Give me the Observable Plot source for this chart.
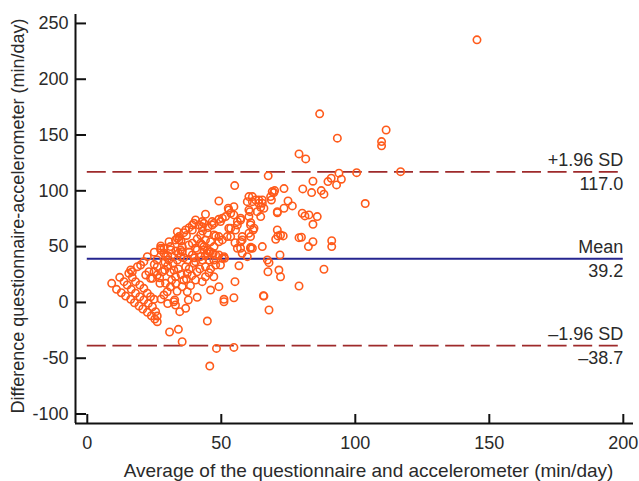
<!DOCTYPE html>
<html>
<head>
<meta charset="utf-8">
<script src="https://cdn.jsdelivr.net/npm/d3@7"></script>
<script src="https://cdn.jsdelivr.net/npm/@observablehq/plot@0.6"></script>
<style>
  html, body { margin: 0; padding: 0; background: #fff; }
  #chart { width: 639px; height: 481px; }
</style>
</head>
<body>
<div id="chart"></div>
<script>
// Average of questionnaire and accelerometer (min/day)
const avgValues = [
  145.4, 86.7, 111.5, 93.3, 109.8, 109.8, 79.0, 81.5, 116.9, 100.5,
  93.9, 94.8, 91.0, 89.8, 93.0, 84.2, 67.5, 55.0, 103.7, 87.3,
  88.3, 83.7, 80.4, 73.4, 69.9, 68.4, 68.7, 74.9, 76.5, 73.4,
  70.9, 80.2, 81.2, 85.8, 84.2, 79.0, 79.9, 84.2, 82.5, 91.2,
  91.2, 88.3, 79.0, 71.9, 72.1, 71.5, 67.4, 67.2, 67.8, 65.3,
  65.7, 67.8, 71.1, 73.1, 70.3, 72.1, 70.9, 59.7, 61.6, 62.8,
  65.3, 64.7, 60.7, 64.7, 69.0, 65.3, 60.3, 64.0, 65.9, 60.3,
  63.4, 49.1, 44.1, 52.8, 50.4, 54.7, 56.0, 57.2, 60.9, 61.9,
  53.5, 47.9, 50.4, 52.2, 55.1, 57.2, 60.9, 60.9, 57.8, 46.6,
  42.9, 43.5, 44.8, 47.2, 49.7, 51.2, 56.6, 55.1, 49.1, 46.0,
  44.1, 54.7, 51.0, 45.7, 48.2, 54.7, 35.4, 30.7, 34.0, 44.8,
  65.9, 51.0, 61.0, 32.6, 32.9, 34.5, 36.7, 41.0, 37.7, 35.4,
  37.3, 40.4, 42.9, 47.2, 45.4,
  9.1, 10.9, 12.7, 14.3, 16.2, 17.6, 19.3, 20.7, 22.4, 23.9,
  25.2, 26.1, 25.5, 26.1, 12.1, 13.7, 14.9, 16.4, 18.0, 19.6,
  21.1, 22.8, 24.3, 15.5, 16.8, 18.0, 19.6, 21.1, 22.4, 23.6,
  24.9,
  18.7, 21.1, 22.4, 23.0, 24.3, 26.1, 27.1, 27.4, 28.6, 28.9,
  29.2, 28.6, 29.8, 30.4, 32.3, 32.9, 33.6, 35.4, 36.7, 37.3,
  35.4, 39.2, 39.2, 39.8, 41.0, 42.3, 43.5, 44.1, 45.4, 45.9,
  47.9, 49.1, 50.4, 42.3, 16.2, 19.9, 21.8, 23.6, 24.9, 26.1,
  28.0, 27.4, 28.6, 29.2, 32.9, 33.6, 32.3,
  61.6, 64.0, 52.6, 53.5, 51.6, 49.1, 46.6, 43.5, 40.4, 39.8,
  41.7, 36.7, 36.0, 56.0, 57.2, 52.8, 55.3, 57.8, 60.3, 62.2,
  57.2, 61.6, 56.0, 49.1, 46.0, 42.9, 40.4, 37.9, 34.2, 34.8,
  51.0, 57.8, 47.9, 45.4, 59.7, 69.6, 82.7, 70.9, 54.7, 49.7,
  47.3, 42.9, 39.2, 34.2, 42.3, 44.8, 47.3, 49.1, 53.5, 61.0,
  60.3, 39.2, 33.6, 30.5, 27.4, 31.1, 41.0, 44.8, 44.1, 47.3,
  34.8, 37.3, 40.4, 16.8,
  30.0, 31.5, 34.0, 36.0, 38.5, 38.0, 42.0, 26.0, 25.0, 31.0,
  33.5, 27.5, 30.0,
  30.0, 32.0, 34.0, 36.0, 38.0, 40.0, 43.0, 46.0, 47.0, 25.0,
  27.0, 29.0, 31.0, 33.0, 35.0, 37.0, 39.0, 44.0, 41.0, 37.0,
  43.0, 45.0, 38.0, 35.0, 31.0, 33.0
];
// Difference questionnaire - accelerometer (min/day)
const diffValues = [
  235.3, 169.0, 154.5, 147.2, 144.1, 140.3, 133.1, 128.6, 117.2, 116.3,
  115.8, 110.4, 111.3, 108.3, 105.3, 108.6, 113.4, 104.7, 88.6, 100.2,
  97.0, 98.4, 101.7, 102.0, 100.2, 94.8, 91.8, 90.9, 86.5, 84.4,
  80.4, 79.9, 77.5, 76.9, 70.0, 58.0, 58.4, 54.4, 50.0, 55.3,
  50.0, 29.7, 14.7, 42.5, 23.0, 29.0, 27.5, 38.0, 35.6, 50.0,
  6.0, -6.8, 59.6, 59.6, 56.6, 60.4, 64.9, 90.3, 94.8, 91.8,
  91.8, 85.3, 81.3, 76.9, 99.3, 88.9, 94.8, 88.9, 84.4, 82.9,
  81.3, 90.9, 79.0, 82.9, 75.4, 78.4, 69.4, 73.9, 69.4, 64.9,
  66.5, 59.6, 56.0, 59.0, 53.5, 48.5, 59.0, 48.5, 56.0, 69.4,
  67.9, 50.0, 44.0, 38.0, 33.5, 39.5, 32.9, 18.6, 14.1, 11.1,
  23.0, 4.2, 2.8, -57.0, -41.2, -40.3, -35.2, -26.5, -24.1, -16.7,
  5.7, 0.6, 49.4, 2.2, -2.3, -8.3, -5.3, 4.6, 2.2, 14.1,
  9.6, 20.1, 18.6, 23.0, 26.6,
  17.1, 11.7, 8.7, 5.7, 2.8, -0.3, -3.2, -5.9, -8.9, -11.9,
  -14.9, -17.3, -8.3, -12.2, 22.5, 18.6, 15.6, 11.7, 8.2, 5.1,
  2.2, -0.8, -3.9, 26.1, 22.5, 18.6, 15.6, 12.6, 8.2, 5.1,
  2.8,
  32.0, 36.5, 41.0, 27.5, 21.6, 24.6, 17.1, 50.6, 44.0, 29.0,
  17.1, 6.6, 9.6, 38.0, 29.0, 23.0, 38.0, 45.5, 32.0, 26.1,
  50.0, 53.0, 42.5, 35.0, 27.5, 41.0, 47.0, 32.0, 38.0, 45.5,
  33.5, 42.5, 39.5, 53.0, 29.1, 33.5, 24.6, 21.6, 27.5, 32.0,
  27.5, 47.0, 48.5, 41.0, 56.0, 63.4, 0.6,
  90.3, 91.8, 84.4, 79.9, 76.9, 74.5, 72.4, 70.9, 73.9, 70.9,
  69.4, 64.9, 62.5, 72.4, 75.4, 66.5, 64.9, 59.0, 62.0, 66.5,
  54.4, 48.5, 48.5, 54.4, 54.4, 51.5, 48.5, 51.5, 56.0, 47.0,
  41.0, 44.0, 42.5, 45.5, 41.0, 98.4, 78.4, 81.3, 85.8, 72.4,
  70.9, 72.4, 64.9, 59.0, 60.4, 62.0, 60.4, 59.0, 59.0, 71.5,
  76.9, 69.4, 57.5, 54.4, 48.5, 47.0, 47.0, 47.0, 56.0, 50.0,
  41.0, 38.0, 36.5, 27.5,
  33.0, 20.0, 30.0, 20.0, 15.0, 45.0, 30.0, 38.0, 45.0, 14.0,
  10.0, 3.0, -1.0,
  42.0, 35.0, 44.0, 40.0, 30.0, 40.0, 38.0, 30.0, 44.0, 34.0,
  22.0, 36.0, 27.0, 17.0, 25.0, 21.0, 24.0, 42.0, 57.0, 60.0,
  64.0, 67.0, 67.0, 55.0, 50.0, 46.0
];

const xTicks = [0, 50, 100, 150, 200];
const yTicks = [-100, -50, 0, 50, 100, 150, 200, 250];
const xDomain = [-4.4, 203.8];
const yDomain = [-108.5, 258];
const limitsX = [0, 200];
const refValues = [117.0, 39.2, -38.7];
const refNames = ["+1.96 SD", "Mean", "\u20131.96 SD"];
const refValueLabels = ["117.0", "39.2", "\u201338.7"];
const xLabel = "Average of the questionnaire and accelerometer (min/day)";
const yLabel = "Difference questionnaire-accelerometer (min/day)";

const points = avgValues.map((a, i) => ({avg: a, diff: diffValues[i]}));
const refs = refValues.map((v, i) => ({v, name: refNames[i], label: refValueLabels[i], mean: i === 1}));

const font = "'Liberation Sans', Arial, Helvetica, sans-serif";
const textColor = "#2a2a2a";

const chart = Plot.plot({
  width: 639,
  height: 481,
  marginLeft: 75,
  marginRight: 6,
  marginTop: 14,
  marginBottom: 58,
  style: {fontFamily: font, fontSize: "18px", color: textColor, background: "#fff"},
  x: {domain: xDomain},
  y: {domain: yDomain},
  marks: [
    // reference lines
    Plot.ruleY(refs.filter(d => !d.mean), {y: "v", x1: limitsX[0], x2: limitsX[1], stroke: "#9e2a2b", strokeWidth: 1.8, strokeDasharray: "19,6.6"}),
    Plot.ruleY(refs.filter(d => d.mean), {y: "v", x1: limitsX[0], x2: limitsX[1], stroke: "#25258f", strokeWidth: 2}),
    // points
    Plot.dot(points, {x: "avg", y: "diff", r: 3.7, stroke: "#ff5a1a", strokeWidth: 1.6, fill: "none"}),
    // reference labels
    Plot.text(refs, {x: () => limitsX[1], y: "v", text: "name", textAnchor: "end", lineAnchor: "bottom", dy: -6, fill: textColor, fontSize: 18}),
    Plot.text(refs, {x: () => limitsX[1], y: "v", text: "label", textAnchor: "end", lineAnchor: "top", dy: 5.5, fill: textColor, fontSize: 18}),
    // axis lines
    Plot.ruleX([xDomain[0]], {stroke: "#111", strokeWidth: 2}),
    Plot.ruleY([yDomain[0]], {stroke: "#111", strokeWidth: 2}),
    // inward ticks
    Plot.axisX({anchor: "top", frameAnchor: "bottom", ticks: xTicks, tickSize: 10, tickFormat: () => "", label: null, stroke: "#111", strokeWidth: 2}),
    Plot.axisY({anchor: "right", frameAnchor: "left", ticks: yTicks, tickSize: 10, tickFormat: () => "", label: null, stroke: "#111", strokeWidth: 2}),
    // tick labels
    Plot.axisX({ticks: xTicks, tickSize: 0, tickPadding: 13, tickFormat: d => String(d), label: null, fill: textColor, fontSize: 18}),
    Plot.axisY({ticks: yTicks, tickSize: 0, tickPadding: 7, tickFormat: d => String(d), label: null, fill: textColor, fontSize: 18}),
    // axis titles
    Plot.text([xLabel], {frameAnchor: "bottom", text: d => d, textAnchor: "middle", lineAnchor: "bottom", dx: 14, dy: 53, fill: textColor, fontSize: 19}),
    Plot.text([yLabel], {frameAnchor: "left", text: d => d, textAnchor: "middle", rotate: -90, dx: -57, dy: -3, fill: textColor, fontSize: 18})
  ]
});
document.getElementById("chart").appendChild(chart);
</script>
</body>
</html>
